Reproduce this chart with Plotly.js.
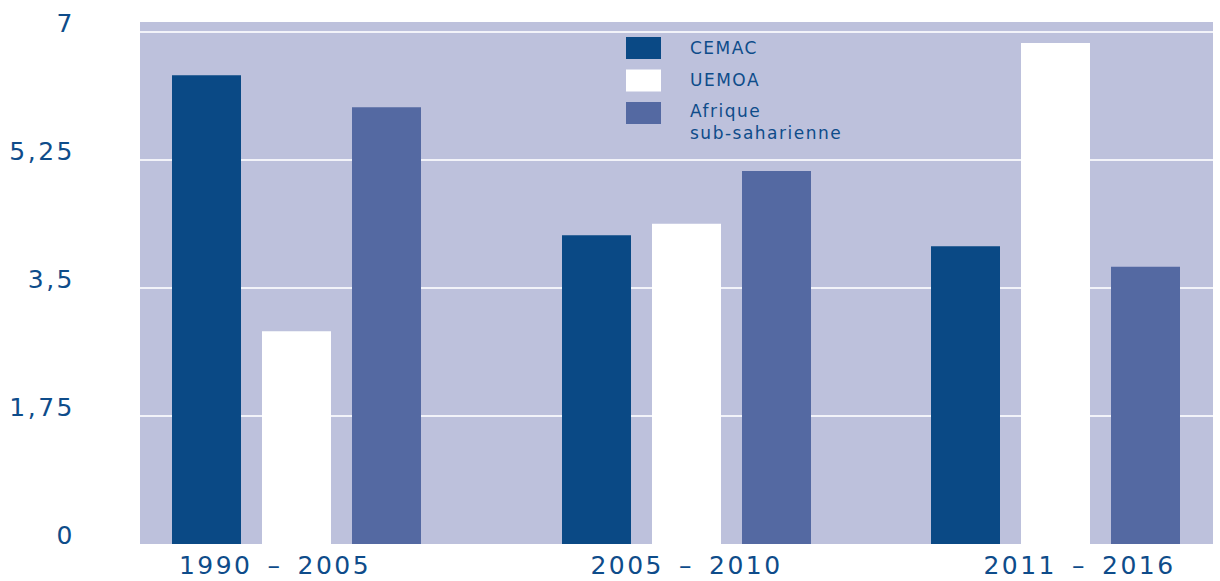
<!DOCTYPE html>
<html>
<head>
<meta charset="utf-8">
<script src="https://cdn.plot.ly/plotly-3.0.1.min.js"></script>
<style>
  html, body { margin: 0; padding: 0; background: #ffffff; }
  #chart { width: 1220px; height: 581px; }
  .xtick text, .ytick text { letter-spacing: 2.5px; }
  .annotation-text { letter-spacing: 1.5px; }
</style>
</head>
<body>
<div id="chart"></div>
<script>
// Periods and growth rates (%)
const periods = ["1990\u2002–\u20022005", "2005\u2002–\u20022010", "2011\u2002–\u20022016"];
const seriesNames = ["CEMAC", "UEMOA", "Afrique<br>sub-saharienne"];
const cemac = [6.41, 4.22, 4.07];
const uemoa = [2.91, 4.38, 6.85];
const afriqueSS = [5.97, 5.10, 3.79];
const yTicks = [0, 1.75, 3.5, 5.25, 7];
const yTickText = ["0", "1,75", "3,5", "5,25", "7"];

// ---- layout constants ----
const textBlue = "#0e4c8a";
const colors = ["#0a4985", "#ffffff", "#5469a2"];
const groupCenters = [1.565, 5.465, 9.155];   // x-axis units (1 unit = 100 px)
const labelCenters = [1.35, 5.465, 9.395];
const barWidth = 0.69;
const barPitch = 0.90;

const plotLeft = 140, plotTop = 22, plotW = 1073, plotH = 522;
const px2x = p => (p - plotLeft) / plotW;
const px2y = p => (plotTop + plotH - p) / plotH;

const values = [cemac, uemoa, afriqueSS];
const traces = values.map((v, i) => ({
  type: "bar",
  name: seriesNames[i],
  x: groupCenters,
  y: v,
  width: barWidth,
  offset: -barWidth / 2 + (i - 1) * barPitch,
  marker: { color: colors[i], line: { width: 0 } },
  hoverinfo: "y+name",
  showlegend: false
}));

// Hand-built legend: boxes + labels
const legX = 626, legTop = 37, legStep = 32.5, boxW = 35, boxH = 22, textX = 688;
const shapes = [], annotations = [];
seriesNames.forEach((name, i) => {
  const top = legTop + i * legStep;
  shapes.push({
    type: "rect", xref: "paper", yref: "paper",
    x0: px2x(legX), x1: px2x(legX + boxW),
    y0: px2y(top + boxH), y1: px2y(top),
    fillcolor: colors[i], line: { width: 0 }
  });
  const multi = name.includes("<br>");
  annotations.push({
    xref: "paper", yref: "paper",
    x: px2x(textX), y: multi ? px2y(top - 3) : px2y(top + boxH / 2),
    xanchor: "left", yanchor: multi ? "top" : "middle",
    align: "left",
    text: name, showarrow: false,
    font: { family: "DejaVu Sans", size: 17, color: textBlue }
  });
});

const layout = {
  width: 1220, height: 581,
  margin: { l: plotLeft, r: 1220 - plotLeft - plotW, t: plotTop, b: 581 - plotTop - plotH, pad: 0 },
  paper_bgcolor: "#ffffff",
  plot_bgcolor: "#bdc1dc",
  barmode: "overlay",
  showlegend: false,
  font: { family: "DejaVu Sans", color: textBlue },
  xaxis: {
    range: [0, plotW / 100],
    tickvals: labelCenters,
    ticktext: periods,
    showgrid: false, zeroline: false, showline: false,
    ticks: "",
    ticklabelstandoff: 4,
    tickfont: { family: "DejaVu Sans", size: 25, color: textBlue },
    fixedrange: true
  },
  yaxis: {
    range: [0, 7.137],
    tickvals: yTicks,
    ticktext: yTickText,
    showgrid: true, gridcolor: "#f2f3f9", gridwidth: 1.5,
    zeroline: false, showline: false,
    ticks: "",
    ticklabelstandoff: 64,
    ticklabelshift: -9,
    tickfont: { family: "DejaVu Sans", size: 25, color: textBlue },
    fixedrange: true
  },
  shapes: shapes,
  annotations: annotations
};

Plotly.newPlot("chart", traces, layout, { displayModeBar: false, staticPlot: true });
</script>
</body>
</html>
